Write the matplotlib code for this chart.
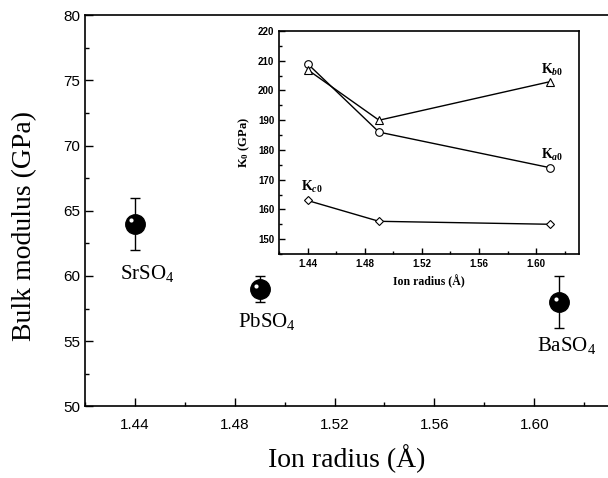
import matplotlib
matplotlib.use("Agg")
import matplotlib.pyplot as plt
from matplotlib.ticker import MultipleLocator
from matplotlib.transforms import offset_copy

plt.rcParams["mathtext.fontset"] = "custom"
plt.rcParams["mathtext.rm"] = "Liberation Serif"
plt.rcParams["mathtext.it"] = "Liberation Serif:bold:italic"
plt.rcParams["mathtext.bf"] = "Liberation Serif:bold"

# main data
radius = [1.44, 1.49, 1.61]
bulk = [64, 59, 58]
bulk_err = [2, 1, 2]
names = ["SrSO$_\\mathregular{4}$", "PbSO$_\\mathregular{4}$", "BaSO$_\\mathregular{4}$"]
name_x = [1.445, 1.493, 1.613]
name_y = [60.2, 56.5, 54.7]

# inset data
ka0 = [209, 186, 174]
kb0 = [207, 190, 203]
kc0 = [163, 156, 155]

serif = "Liberation Serif"
sans = "Liberation Sans"

fig = plt.figure(figsize=(6.08, 4.78), dpi=100)
ax = fig.add_axes([0.1398, 0.1496, 0.862, 0.819])

ax.errorbar(radius, bulk, yerr=bulk_err, fmt="none", ecolor="black",
            elinewidth=1, capsize=3.5, capthick=1, zorder=2)
ax.plot(radius, bulk, "o", color="black", markersize=14, zorder=3)
hl = offset_copy(ax.transData, fig=fig, x=-2.5, y=2.5, units="points")
ax.plot(radius, bulk, "o", color="white", markersize=3, markeredgewidth=0,
        transform=hl, zorder=4)

for nx, ny, nm in zip(name_x, name_y, names):
    ax.text(nx, ny, nm, ha="center", va="center", fontsize=15, family=serif)

ax.set_xlim(1.42, 1.63)
ax.set_ylim(50, 80)
ax.xaxis.set_minor_locator(MultipleLocator(0.02))
ax.yaxis.set_major_locator(MultipleLocator(5))
ax.yaxis.set_minor_locator(MultipleLocator(2.5))
ax.set_xticks([1.44, 1.48, 1.52, 1.56, 1.60])
ax.set_xticklabels(["1.44", "1.48", "1.52", "1.56", "1.60"])
ax.tick_params(which="both", direction="in", labelsize=11, width=1)
ax.tick_params(which="major", length=6)
ax.tick_params(which="minor", length=3)
for lab in ax.get_xticklabels() + ax.get_yticklabels():
    lab.set_family(sans)
ax.tick_params(axis="x", pad=8)
ax.spines["right"].set_visible(False)
for s in ax.spines.values():
    s.set_linewidth(1.2)
ax.set_xlabel("Ion radius (Å)", fontsize=20, family=serif, labelpad=9)
ax.set_ylabel("Bulk modulus (GPa)", fontsize=20, family=serif)
ax.yaxis.set_label_coords(-0.092, 0.46)

# inset
ins = fig.add_axes([0.4589, 0.4686, 0.4934, 0.4665])
ins.plot(radius, ka0, "-o", color="black", lw=1, markersize=5.5,
         markerfacecolor="white", markeredgewidth=0.8)
ins.plot(radius, kb0, "-^", color="black", lw=1, markersize=6,
         markerfacecolor="white", markeredgewidth=0.8)
ins.plot(radius, kc0, "-D", color="black", lw=1, markersize=4.5,
         markerfacecolor="white", markeredgewidth=0.8)
ins.text(1.611, 206.8, "K$_{\\mathit{b}\\mathbf{0}}$", ha="center", va="center",
         fontsize=10, family=serif, fontweight="bold")
ins.text(1.611, 178.2, "K$_{\\mathit{a}\\mathbf{0}}$", ha="center", va="center",
         fontsize=10, family=serif, fontweight="bold")
ins.text(1.443, 167.5, "K$_{\\mathit{c}\\mathbf{0}}$", ha="center", va="center",
         fontsize=10, family=serif, fontweight="bold")
ins.set_xlim(1.42, 1.63)
ins.set_ylim(145, 220)
ins.set_xticks([1.44, 1.48, 1.52, 1.56, 1.60])
ins.set_xticklabels(["1.44", "1.48", "1.52", "1.56", "1.60"])
ins.xaxis.set_minor_locator(MultipleLocator(0.02))
ins.yaxis.set_major_locator(MultipleLocator(10))
ins.yaxis.set_minor_locator(MultipleLocator(5))
ins.tick_params(which="both", direction="in", labelsize=7, width=1)
ins.tick_params(which="major", length=4)
ins.tick_params(which="minor", length=2)
for lab in ins.get_xticklabels() + ins.get_yticklabels():
    lab.set_family(sans)
    lab.set_fontweight("bold")
for s in ins.spines.values():
    s.set_linewidth(1.2)
ins.set_xlabel("Ion radius (Å)", fontsize=8.5, family=serif, fontweight="bold")
ins.set_ylabel("K$_\\mathbf{0}$ (GPa)", fontsize=9, family=serif, fontweight="bold")

fig.savefig("out.png", dpi=100)
